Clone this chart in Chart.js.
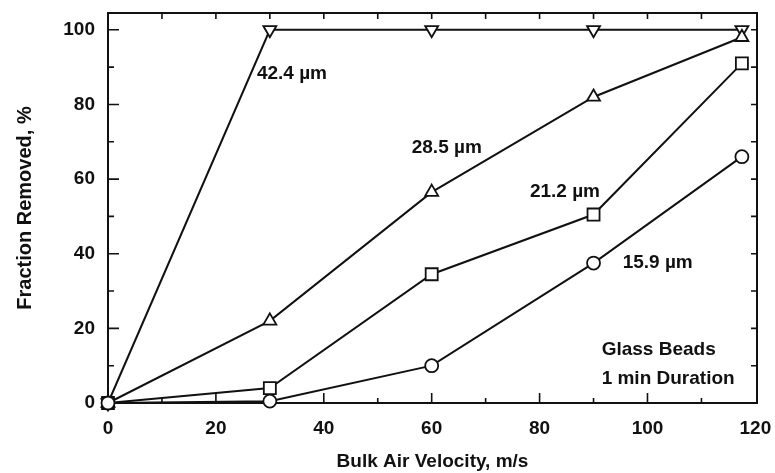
<!DOCTYPE html>
<html>
<head>
<meta charset="utf-8">
<script src="https://cdn.jsdelivr.net/npm/chart.js@4.4.0/dist/chart.umd.min.js"></script>
<style>
  html, body { margin: 0; padding: 0; background: #fff; }
</style>
</head>
<body>
<canvas id="chart" width="775" height="473"></canvas>
<script>
// data
const velocity = [0, 30, 60, 90, 117.5];
const frac424 = [0, 100, 100, 100, 100];
const frac285 = [0, 22, 56.5, 82, 98];
const frac212 = [0, 4, 34.5, 50.5, 91];
const frac159 = [0, 0.5, 10, 37.5, 66];

const seriesNames = ['42.4 µm', '28.5 µm', '21.2 µm', '15.9 µm'];
// where each size label sits, in data units
const labelX = [27.6, 56.3, 78.2, 95.4];
const labelY = [88.2, 68.4, 56.6, 37.5];
const noteLines = ['Glass Beads', '1 min Duration'];
const noteX = 91.5;
const noteY = [14.2, 6.4];

const xTicks = [0, 20, 40, 60, 80, 100, 120];
const yTicks = [0, 20, 40, 60, 80, 100];

const INK = '#111';
const FONT = '"Liberation Sans", Arial, sans-serif';

function pts(ys) {
  return velocity.map((v, i) => ({ x: v, y: ys[i] }));
}

function series(ys, style, radius, rotation) {
  return {
    data: pts(ys),
    borderColor: INK,
    borderWidth: 2,
    pointStyle: style,
    pointRadius: radius,
    pointRotation: rotation || 0,
    pointBackgroundColor: '#fff',
    pointBorderColor: INK,
    pointBorderWidth: 1.8,
    tension: 0,
    clip: false
  };
}

// box round the plot with short inward ticks on every side
const framePlugin = {
  id: 'frame',
  beforeDatasetsDraw(chart) {
    const { ctx, chartArea: a, scales } = chart;
    ctx.save();
    ctx.strokeStyle = INK;
    ctx.lineWidth = 2;
    ctx.strokeRect(a.left, a.top, a.right - a.left, a.bottom - a.top);
    ctx.lineWidth = 1.6;
    ctx.beginPath();
    for (let v = 10; v < 120; v += 10) {
      const px = scales.x.getPixelForValue(v);
      const len = v % 20 === 0 ? 10 : 5;
      ctx.moveTo(px, a.bottom); ctx.lineTo(px, a.bottom - len);
      ctx.moveTo(px, a.top); ctx.lineTo(px, a.top + 6);
    }
    for (let v = 10; v <= 100; v += 10) {
      const py = scales.y.getPixelForValue(v);
      const len = v % 20 === 0 ? 11 : 6;
      ctx.moveTo(a.left, py); ctx.lineTo(a.left + len, py);
      ctx.moveTo(a.right, py); ctx.lineTo(a.right - 6, py);
    }
    ctx.stroke();
    ctx.restore();
  },
  afterDatasetsDraw(chart) {
    const { ctx, scales } = chart;
    ctx.save();
    ctx.fillStyle = INK;
    ctx.textAlign = 'left';
    ctx.textBaseline = 'middle';
    ctx.font = 'bold 19px ' + FONT;
    seriesNames.forEach((name, i) => {
      ctx.fillText(name, scales.x.getPixelForValue(labelX[i]), scales.y.getPixelForValue(labelY[i]));
    });
    noteLines.forEach((line, i) => {
      ctx.fillText(line, scales.x.getPixelForValue(noteX), scales.y.getPixelForValue(noteY[i]));
    });
    ctx.restore();
  }
};

const tickFont = { family: FONT, size: 19, weight: 'bold' };
const titleFont = { family: FONT, size: 19, weight: 'bold' };

new Chart(document.getElementById('chart'), {
  type: 'line',
  data: {
    datasets: [
      series(frac159, 'circle', 6.5),
      series(frac212, 'rect', 8.5),
      series(frac285, 'triangle', 7.5),
      series(frac424, 'triangle', 7.5, 180)
    ]
  },
  options: {
    responsive: false,
    animation: false,
    devicePixelRatio: 1,
    layout: { padding: { top: 13, right: 18, left: 0, bottom: 0 } },
    plugins: { legend: { display: false }, tooltip: { enabled: false } },
    scales: {
      x: {
        type: 'linear',
        min: 0,
        max: 120.3,
        afterBuildTicks: s => { s.ticks = xTicks.map(v => ({ value: v })); },
        afterFit: s => { s.height = 70; s.paddingLeft = 0; s.paddingRight = 0; },
        grid: { display: false, drawTicks: false },
        border: { display: false },
        ticks: { padding: 14, color: INK, font: tickFont, maxRotation: 0 },
        title: { display: true, text: 'Bulk Air Velocity, m/s', color: INK, font: titleFont, padding: 0 }
      },
      y: {
        type: 'linear',
        min: 0,
        max: 104.5,
        afterBuildTicks: s => { s.ticks = yTicks.map(v => ({ value: v })); },
        afterFit: s => { s.width = 108; s.paddingTop = 0; s.paddingBottom = 0; },
        grid: { display: false, drawTicks: false },
        border: { display: false },
        ticks: { padding: 13, color: INK, font: tickFont },
        title: { display: true, text: 'Fraction Removed, %', color: INK, font: { family: FONT, size: 20, weight: 'bold' }, padding: { top: 13, bottom: 0 } }
      }
    }
  },
  plugins: [framePlugin]
});
</script>
</body>
</html>
